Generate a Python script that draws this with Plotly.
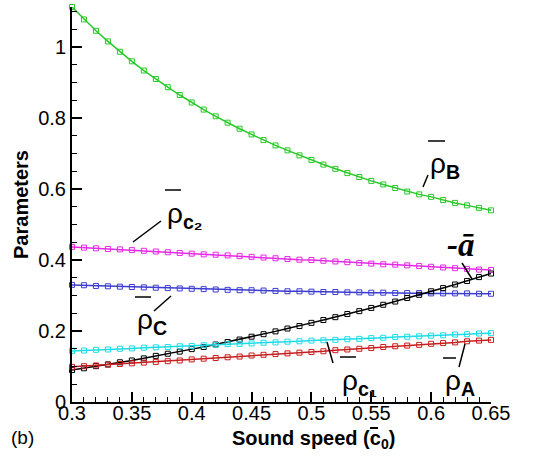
import plotly.graph_objects as go

c0 = [round(0.30 + 0.01 * i, 2) for i in range(36)]

rho_B = [1.113, 1.078, 1.046, 1.016, 0.987, 0.960, 0.934, 0.910, 0.887, 0.865,
         0.844, 0.824, 0.805, 0.787, 0.770, 0.754, 0.738, 0.723, 0.709, 0.695,
         0.682, 0.669, 0.657, 0.645, 0.634, 0.623, 0.613, 0.603, 0.593, 0.585,
         0.578, 0.569, 0.561, 0.554, 0.547, 0.540]
rho_c2 = [0.437, 0.435, 0.433, 0.431, 0.430, 0.428, 0.426, 0.424, 0.422, 0.420,
          0.418, 0.416, 0.415, 0.413, 0.411, 0.409, 0.407, 0.405, 0.403, 0.401,
          0.400, 0.398, 0.396, 0.394, 0.392, 0.390, 0.388, 0.387, 0.385, 0.383,
          0.381, 0.379, 0.377, 0.375, 0.373, 0.372]
rho_C = [0.330, 0.329, 0.327, 0.326, 0.325, 0.324, 0.323, 0.322, 0.321, 0.320,
         0.319, 0.318, 0.317, 0.316, 0.315, 0.315, 0.314, 0.313, 0.312, 0.312,
         0.311, 0.310, 0.310, 0.309, 0.309, 0.308, 0.308, 0.307, 0.307, 0.307,
         0.306, 0.306, 0.306, 0.306, 0.305, 0.305]
minus_a = [0.090, 0.095, 0.101, 0.106, 0.112, 0.117, 0.123, 0.130, 0.136, 0.142,
           0.149, 0.155, 0.162, 0.169, 0.176, 0.184, 0.191, 0.199, 0.207, 0.214,
           0.223, 0.231, 0.239, 0.248, 0.256, 0.265, 0.274, 0.283, 0.293, 0.302,
           0.312, 0.321, 0.331, 0.341, 0.352, 0.362]
rho_c1 = [0.144, 0.145, 0.147, 0.148, 0.150, 0.151, 0.153, 0.154, 0.155, 0.157,
          0.158, 0.160, 0.161, 0.163, 0.164, 0.165, 0.167, 0.168, 0.170, 0.171,
          0.173, 0.174, 0.175, 0.177, 0.178, 0.180, 0.181, 0.183, 0.184, 0.185,
          0.187, 0.188, 0.190, 0.191, 0.193, 0.194]
rho_A = [0.099, 0.101, 0.103, 0.105, 0.107, 0.109, 0.111, 0.113, 0.115, 0.117,
         0.120, 0.122, 0.124, 0.126, 0.128, 0.131, 0.133, 0.135, 0.137, 0.139,
         0.141, 0.143, 0.146, 0.148, 0.150, 0.152, 0.155, 0.157, 0.159, 0.161,
         0.164, 0.166, 0.168, 0.171, 0.173, 0.175]

series = [
    ("rho_B", rho_B, "rgb(40,200,40)"),
    ("rho_c2", rho_c2, "rgb(230,40,230)"),
    ("rho_C", rho_C, "rgb(60,60,210)"),
    ("-a", minus_a, "rgb(0,0,0)"),
    ("rho_c1", rho_c1, "rgb(30,220,230)"),
    ("rho_A", rho_A, "rgb(200,30,30)"),
]

W, H = 538, 456
L, R, T, B = 72, 47, 7, 54
XMIN, XMAX = 0.3, 0.65
YMIN, YMAX = 0.0, 1.113


def ppx(px):
    return (px - L) / (W - L - R)


def ppy(py):
    return (H - B - py) / (H - T - B)


fig = go.Figure()
for name, vals, col in series:
    fig.add_trace(go.Scatter(
        x=c0, y=vals, mode="lines+markers", name=name,
        line=dict(color=col, width=1.5),
        marker=dict(symbol="square-open", size=5, color=col, line=dict(width=1, color=col)),
        showlegend=False, cliponaxis=False,
    ))

SANS = "Liberation Sans, Arial, sans-serif"

# leader lines and overbars (pixel positions -> paper coords)
segments = [
    ((428, 175), (423, 187)),   # rho_B leader
    ((428, 141), (445, 141)),   # rho_B bar
    ((161, 221), (133, 242)),   # rho_c2 leader
    ((165, 190), (181, 190)),   # rho_c2 bar
    ((154, 311), (171, 296)),   # rho_C leader
    ((135, 297), (151, 297)),   # rho_C bar
    ((462, 263), (472, 279)),   # -a leader
    ((327, 342), (333, 363)),   # rho_c1 leader
    ((340, 357), (356, 357)),   # rho_c1 bar
    ((465, 344), (459, 367)),   # rho_A leader
    ((443, 358), (456, 358)),   # rho_A bar
]
for (x0, y0), (x1, y1) in segments:
    fig.add_shape(type="line", xref="paper", yref="paper",
                  x0=ppx(x0), y0=ppy(y0), x1=ppx(x1), y1=ppy(y1),
                  line=dict(color="black", width=1.5))

labels = [
    ((428, 146), "ρ<sub><b>B</b></sub>"),
    ((165, 196), "ρ<sub><b>c₂</b></sub>"),
    ((135, 302), "ρ<sub><b>C</b></sub>"),
    ((340, 363), "ρ<sub><b>c₁</b></sub>"),
    ((443, 363), "ρ<sub><b>A</b></sub>"),
]
for (px, py), txt in labels:
    fig.add_annotation(x=ppx(px), y=ppy(py), xref="paper", yref="paper", text=txt,
                       xanchor="left", yanchor="top",
                       showarrow=False, font=dict(family=SANS, size=28, color="black"))

fig.add_annotation(x=ppx(461), y=ppy(245), xref="paper", yref="paper", text="<b><i>-ā</i></b>",
                   xanchor="center", yanchor="middle", showarrow=False,
                   font=dict(family="Liberation Serif, Times New Roman, serif", size=33, color="black"))

fig.add_annotation(x=ppx(22), y=ppy(437), xref="paper", yref="paper", text="(b)",
                   xanchor="center", yanchor="middle", showarrow=False,
                   font=dict(family=SANS, size=19, color="black"))

fig.add_annotation(x=ppx(313), y=ppy(439), xref="paper", yref="paper",
                   text="<b>Sound speed (c<sub>0</sub>)</b>",
                   xanchor="center", yanchor="middle", showarrow=False,
                   font=dict(family=SANS, size=20, color="black"))
# bar over the c in the axis title
fig.add_shape(type="line", xref="paper", yref="paper",
              x0=ppx(370), y0=ppy(428), x1=ppx(378), y1=ppy(428),
              line=dict(color="black", width=2))

fig.update_layout(
    width=W, height=H,
    margin=dict(l=L, r=R, t=T, b=B),
    paper_bgcolor="white", plot_bgcolor="white",
    font=dict(family=SANS, size=20, color="black"),
)

fig.update_xaxes(
    range=[XMIN, XMAX], dtick=0.05, tick0=0.3,
    showline=True, linecolor="black", linewidth=2, mirror=False,
    ticks="inside", ticklen=10, tickwidth=2, tickcolor="black",
    minor=dict(dtick=0.01, ticks="inside", ticklen=5, tickwidth=1, tickcolor="black"),
    showgrid=False, zeroline=False,
    tickfont=dict(size=20), ticklabelstandoff=-8,
)
fig.update_yaxes(
    range=[YMIN, YMAX], dtick=0.2, tick0=0,
    showline=True, linecolor="black", linewidth=2, mirror=False,
    ticks="inside", ticklen=10, tickwidth=2, tickcolor="black",
    minor=dict(dtick=0.05, ticks="inside", ticklen=5, tickwidth=1, tickcolor="black"),
    showgrid=False, zeroline=False,
    tickfont=dict(size=20),
    title=dict(text="<b>Parameters</b>", font=dict(size=20), standoff=4),
)

fig.write_html("out.html")
